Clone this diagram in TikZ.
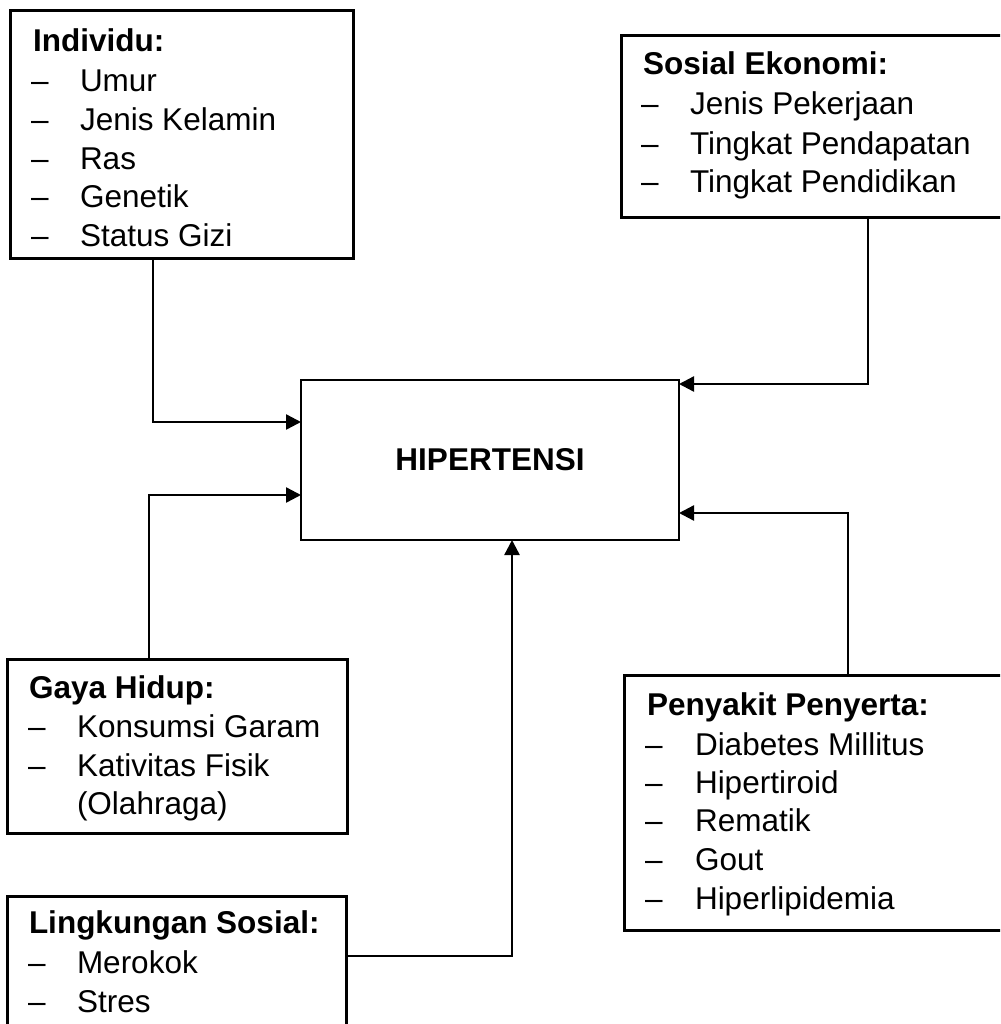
\documentclass[tikz,border=0pt]{standalone}
\usepackage{fontspec}
\setmainfont{Liberation Sans}
\usetikzlibrary{arrows.meta}
\begin{document}
\begin{tikzpicture}[x=1pt,y=-1pt,
  box/.style={draw,line width=3pt,inner sep=0pt,outer sep=0pt,anchor=north west},
  txt/.style={inner sep=0pt,outer sep=0pt,anchor=base west,font=\fontsize{31.5}{40}\selectfont},
  hd/.style={txt,font=\fontsize{31.5}{40}\selectfont\bfseries},
  conn/.style={line width=2.4pt,-{Triangle[length=15pt,width=15pt]}}]
\useasboundingbox (0,0) rectangle (1000,1024);
\clip (0,0) rectangle (1000,1024);
\fill[white] (0,0) rectangle (1000,1024);
% boxes
\node[box,minimum width=343pt,minimum height=247pt] (ind) at (10,11) {};
\node[box,minimum width=385pt,minimum height=182pt] (sos) at (621,36) {};
\node[box,line width=2.5pt,minimum width=378pt,minimum height=160pt] (hip) at (301,380) {};
\node[box,minimum width=340pt,minimum height=174pt] (gaya) at (7,659) {};
\node[box,minimum width=339pt,minimum height=140pt] (ling) at (7,896) {};
\node[box,minimum width=382pt,minimum height=255pt] (pen) at (624,675) {};
\node[font=\fontsize{31.5}{40}\selectfont\bfseries,inner sep=0pt] (hipt) at (hip.center) {HIPERTENSI};
% Individu
\node[hd] (ind0) at (33,52) {Individu:};
\foreach \y/\t [count=\i] in {92/Umur,131/Jenis Kelamin,170/Ras,208/Genetik,247/Status Gizi}{
  \node[txt] (indd\i) at (31,\y) {–};
  \node[txt] (indt\i) at (80,\y) {\t};
}
% Sosial Ekonomi
\node[hd] (sos0) at (643,75) {Sosial Ekonomi:};
\foreach \y/\t [count=\i] in {115/Jenis Pekerjaan,155/Tingkat Pendapatan,193/Tingkat Pendidikan}{
  \node[txt] (sosd\i) at (641,\y) {–};
  \node[txt] (sost\i) at (690,\y) {\t};
}
% Gaya Hidup
\node[hd] (gaya0) at (29,698) {Gaya Hidup:};
\node[txt] (gayad1) at (28,737) {–};
\node[txt] (gayat1) at (77,737) {Konsumsi Garam};
\node[txt] (gayad2) at (28,776) {–};
\node[txt] (gayat2) at (77,776) {Kativitas Fisik};
\node[txt] (gayat3) at (77,814) {(Olahraga)};
% Lingkungan Sosial
\node[hd] (ling0) at (29,933) {Lingkungan Sosial:};
\node[txt] (lingd1) at (28,973) {–};
\node[txt] (lingt1) at (77,973) {Merokok};
\node[txt] (lingd2) at (28,1012) {–};
\node[txt] (lingt2) at (77,1012) {Stres};
% Penyakit Penyerta
\node[hd] (pen0) at (647,715) {Penyakit Penyerta:};
\foreach \y/\t [count=\i] in {755/Diabetes Millitus,793/Hipertiroid,831/Rematik,870/Gout,909/Hiperlipidemia}{
  \node[txt] (pend\i) at (645,\y) {–};
  \node[txt] (pent\i) at (695,\y) {\t};
}
% connectors
\draw[conn] ([xshift=143pt]ind.south west) |- ([yshift=-42pt]hip.north west);
\draw[conn] ([xshift=142pt]gaya.north west) |- ([yshift=-115pt]hip.north west);
\draw[conn] ([yshift=-60pt]ling.north east) -| ([xshift=211pt]hip.south west);
\draw[conn] ([xshift=247pt]sos.south west) |- ([yshift=-4pt]hip.north east);
\draw[conn] ([xshift=224pt]pen.north west) |- ([yshift=-133pt]hip.north east);
\end{tikzpicture}
\end{document}
